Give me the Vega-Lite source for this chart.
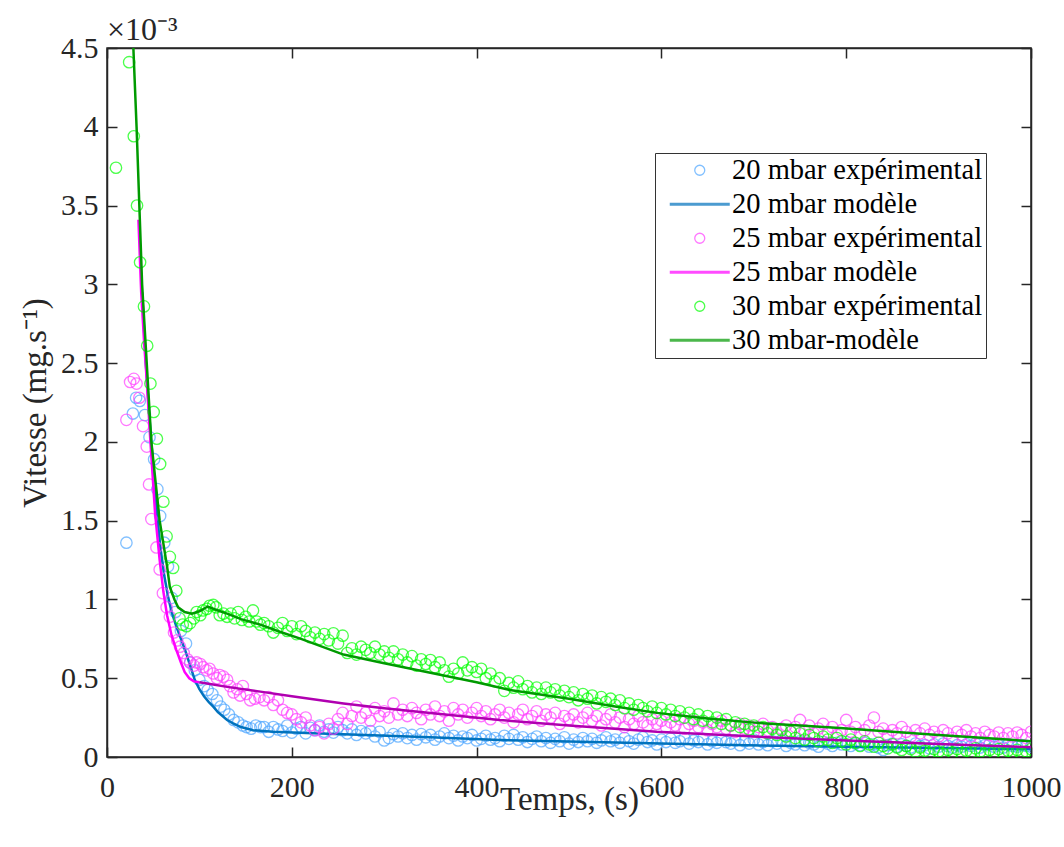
{
"$schema": "https://vega.github.io/schema/vega-lite/v6.json",
"width": 924, "height": 709,
"autosize": {"type": "none"},
"padding": {"left": 107, "top": 48, "right": 33, "bottom": 90},
"background": "white",
"title": {"text": "×10⁻³", "anchor": "start", "frame": "group", "offset": -14, "fontSize": 32, "font": "Liberation Serif", "fontWeight": "normal", "color": "#262626"},
"config": {
 "view": {"stroke": "#262626", "strokeWidth": 1.5},
 "axis": {"grid": false, "domainColor": "#262626", "domainWidth": 1.5, "tickColor": "#262626", "tickWidth": 1.5, "tickSize": -10, "labelFlush": false, "labelFont": "Liberation Serif", "labelFontSize": 30, "labelColor": "#262626", "titleFont": "Liberation Serif", "titleFontSize": 33, "titleFontWeight": "normal", "titleColor": "#262626"}
},
"datasets": {
"e20": [{"t":21,"v":1.36},{"t":28,"v":2.18},{"t":31.5,"v":2.28},{"t":35.5,"v":2.26},{"t":41,"v":2.17},{"t":46,"v":2.03},{"t":51,"v":1.89},{"t":54.5,"v":1.7},{"t":57.5,"v":1.53},{"t":62,"v":1.36},{"t":66,"v":1.21},{"t":70,"v":1.01},{"t":74,"v":0.92},{"t":80,"v":0.8},{"t":85.5,"v":0.72},{"t":90,"v":0.6},{"t":95,"v":0.55},{"t":100,"v":0.49},{"t":105,"v":0.45},{"t":109,"v":0.425},{"t":114,"v":0.4},{"t":119,"v":0.36},{"t":123,"v":0.32},{"t":127,"v":0.3},{"t":132,"v":0.27},{"t":137,"v":0.235},{"t":142,"v":0.22},{"t":147,"v":0.2},{"t":151,"v":0.19},{"t":156,"v":0.18},{"t":161,"v":0.2},{"t":166,"v":0.19},
{"t":170,"v":0.19},{"t":175,"v":0.16},{"t":180,"v":0.19},{"t":185,"v":0.175},{"t":190,"v":0.165},{"t":195,"v":0.2},{"t":200,"v":0.155},{"t":205,"v":0.18},{"t":210,"v":0.19},{"t":215,"v":0.15},{"t":220,"v":0.185},{"t":225,"v":0.17},{"t":230,"v":0.2},{"t":235,"v":0.16},{"t":240,"v":0.175},{"t":245,"v":0.155},{"t":250,"v":0.19},{"t":255,"v":0.17},{"t":260,"v":0.15},{"t":265,"v":0.175},{"t":270,"v":0.14},{"t":275,"v":0.165},{"t":280,"v":0.15},{"t":285,"v":0.165},{"t":290,"v":0.13},{"t":295,"v":0.16},{"t":300,"v":0.105},{"t":305,"v":0.12},{"t":310,"v":0.145},{"t":315,"v":0.13},{"t":320,"v":0.15},{"t":325,"v":0.12},{"t":330,"v":0.14},{"t":335,"v":0.11},{"t":340,"v":0.145},{"t":345,"v":0.125},{"t":350,"v":0.14},{"t":355,"v":0.11},{"t":360,"v":0.13},{"t":365,"v":0.15},{"t":370,"v":0.12},{"t":375,"v":0.135},{"t":380,"v":0.105},{"t":385,"v":0.13},{"t":390,"v":0.12},{"t":395,"v":0.14},{"t":400,"v":0.105},{"t":405,"v":0.115},{"t":410,"v":0.135},{"t":415,"v":0.11},{"t":420,"v":0.12},{"t":425,"v":0.1},{"t":430,"v":0.135},{"t":435,"v":0.115},{"t":440,"v":0.14},{"t":445,"v":0.11},{"t":450,"v":0.125},{"t":455,"v":0.095},{"t":460,"v":0.115},{"t":465,"v":0.13},{"t":470,"v":0.1},{"t":475,"v":0.12},{"t":480,"v":0.09},{"t":485,"v":0.115},{"t":490,"v":0.1},{"t":495,"v":0.125},{"t":500,"v":0.085},{"t":505,"v":0.11},{"t":510,"v":0.095},{"t":515,"v":0.12},{"t":520,"v":0.1},{"t":525,"v":0.115},{"t":530,"v":0.09},{"t":535,"v":0.105},{"t":540,"v":0.125},{"t":545,"v":0.1},{"t":550,"v":0.11},{"t":555,"v":0.09},{"t":560,"v":0.12},{"t":565,"v":0.1},{"t":570,"v":0.085},{"t":575,"v":0.11},{"t":580,"v":0.125},{"t":585,"v":0.095},{"t":590,"v":0.105},{"t":595,"v":0.08},{"t":600,"v":0.11},{"t":605,"v":0.095},{"t":610,"v":0.115},{"t":615,"v":0.09},{"t":620,"v":0.1},{"t":625,"v":0.12},{"t":630,"v":0.085},{"t":635,"v":0.105},{"t":640,"v":0.095},{"t":645,"v":0.115},{"t":650,"v":0.08},{"t":655,"v":0.1},{"t":660,"v":0.09},{"t":665,"v":0.11},{"t":670,"v":0.095},{"t":675,"v":0.085},{"t":680,"v":0.105},{"t":685,"v":0.075},{"t":690,"v":0.1},{"t":695,"v":0.085},{"t":700,"v":0.11},{"t":705,"v":0.08},{"t":710,"v":0.095},{"t":715,"v":0.075},{"t":720,"v":0.1},{"t":725,"v":0.085},{"t":730,"v":0.105},{"t":735,"v":0.07},{"t":740,"v":0.09},{"t":745,"v":0.08},{"t":750,"v":0.1},{"t":755,"v":0.075},{"t":760,"v":0.09},{"t":765,"v":0.08},{"t":770,"v":0.065},{"t":775,"v":0.095},{"t":780,"v":0.085},{"t":785,"v":0.07},{"t":790,"v":0.09},{"t":795,"v":0.08},{"t":800,"v":0.095},{"t":805,"v":0.07},{"t":810,"v":0.085},{"t":815,"v":0.075},{"t":820,"v":0.09},{"t":825,"v":0.065},{"t":830,"v":0.08},{"t":835,"v":0.06},{"t":840,"v":0.045},{"t":845,"v":0.075},{"t":850,"v":0.085},{"t":855,"v":0.065},{"t":860,"v":0.08},{"t":865,"v":0.07},{"t":870,"v":0.06},{"t":875,"v":0.085},{"t":880,"v":0.07},{"t":885,"v":0.075},{"t":890,"v":0.055},{"t":895,"v":0.08},{"t":900,"v":0.065},{"t":905,"v":0.085},{"t":910,"v":0.07},{"t":915,"v":0.06},{"t":920,"v":0.075},{"t":925,"v":0.065},{"t":930,"v":0.08},{"t":935,"v":0.07},{"t":940,"v":0.085},{"t":945,"v":0.06},{"t":950,"v":0.075},{"t":955,"v":0.08},{"t":960,"v":0.065},{"t":965,"v":0.075},{"t":970,"v":0.06},{"t":975,"v":0.08},{"t":980,"v":0.07},{"t":985,"v":0.065},{"t":990,"v":0.075},{"t":995,"v":0.07},{"t":1000,"v":0.065}],
"e25": [{"t":21,"v":2.14},{"t":25,"v":2.38},{"t":29,"v":2.4},{"t":32,"v":2.37},{"t":35,"v":2.28},{"t":39,"v":2.1},{"t":43,"v":1.97},{"t":45.5,"v":1.73},{"t":48,"v":1.51},{"t":53.5,"v":1.33},{"t":57,"v":1.19},{"t":60.5,"v":1.04},{"t":64.5,"v":0.95},{"t":68,"v":0.89},{"t":72.5,"v":0.79},{"t":76,"v":0.74},{"t":79,"v":0.7},{"t":83,"v":0.66},{"t":87,"v":0.62},{"t":90,"v":0.6},{"t":94,"v":0.58},{"t":97,"v":0.6},{"t":101,"v":0.59},{"t":104,"v":0.57},{"t":108,"v":0.55},{"t":111,"v":0.56},{"t":115,"v":0.53},{"t":119,"v":0.5},{"t":122,"v":0.52},{"t":126,"v":0.51},{"t":130,"v":0.49},{"t":133,"v":0.45},{"t":137,"v":0.41},{"t":141,"v":0.43},{"t":144,"v":0.39},{"t":147,"v":0.45},{"t":151,"v":0.4},{"t":155,"v":0.36},{"t":160,"v":0.37},{"t":165,"v":0.38},
{"t":170,"v":0.36},{"t":175,"v":0.38},{"t":180,"v":0.33},{"t":185,"v":0.36},{"t":190,"v":0.3},{"t":195,"v":0.28},{"t":200,"v":0.27},{"t":205,"v":0.24},{"t":210,"v":0.22},{"t":215,"v":0.25},{"t":220,"v":0.2},{"t":225,"v":0.17},{"t":230,"v":0.19},{"t":235,"v":0.15},{"t":240,"v":0.21},{"t":245,"v":0.18},{"t":250,"v":0.24},{"t":255,"v":0.28},{"t":260,"v":0.21},{"t":265,"v":0.26},{"t":270,"v":0.32},{"t":275,"v":0.25},{"t":280,"v":0.28},{"t":285,"v":0.23},{"t":290,"v":0.31},{"t":295,"v":0.26},{"t":300,"v":0.29},{"t":305,"v":0.25},{"t":310,"v":0.34},{"t":315,"v":0.27},{"t":320,"v":0.3},{"t":325,"v":0.26},{"t":330,"v":0.31},{"t":335,"v":0.28},{"t":340,"v":0.24},{"t":345,"v":0.3},{"t":350,"v":0.27},{"t":355,"v":0.32},{"t":360,"v":0.26},{"t":365,"v":0.29},{"t":370,"v":0.23},{"t":375,"v":0.31},{"t":380,"v":0.27},{"t":385,"v":0.3},{"t":390,"v":0.25},{"t":395,"v":0.28},{"t":400,"v":0.31},{"t":405,"v":0.26},{"t":410,"v":0.29},{"t":415,"v":0.24},{"t":420,"v":0.27},{"t":425,"v":0.3},{"t":430,"v":0.25},{"t":435,"v":0.28},{"t":440,"v":0.22},{"t":445,"v":0.27},{"t":450,"v":0.3},{"t":455,"v":0.24},{"t":460,"v":0.26},{"t":465,"v":0.29},{"t":470,"v":0.23},{"t":475,"v":0.27},{"t":480,"v":0.25},{"t":485,"v":0.28},{"t":490,"v":0.21},{"t":495,"v":0.26},{"t":500,"v":0.24},{"t":505,"v":0.27},{"t":510,"v":0.22},{"t":515,"v":0.25},{"t":520,"v":0.28},{"t":525,"v":0.23},{"t":530,"v":0.26},{"t":535,"v":0.2},{"t":540,"v":0.24},{"t":545,"v":0.27},{"t":550,"v":0.22},{"t":555,"v":0.25},{"t":560,"v":0.19},{"t":565,"v":0.24},{"t":570,"v":0.21},{"t":575,"v":0.26},{"t":580,"v":0.22},{"t":585,"v":0.2},{"t":590,"v":0.24},{"t":595,"v":0.21},{"t":600,"v":0.23},{"t":605,"v":0.19},{"t":610,"v":0.22},{"t":615,"v":0.2},{"t":620,"v":0.24},{"t":625,"v":0.18},{"t":630,"v":0.21},{"t":635,"v":0.23},{"t":640,"v":0.19},{"t":645,"v":0.22},{"t":650,"v":0.17},{"t":655,"v":0.21},{"t":660,"v":0.19},{"t":665,"v":0.23},{"t":670,"v":0.18},{"t":675,"v":0.2},{"t":680,"v":0.16},{"t":685,"v":0.21},{"t":690,"v":0.18},{"t":695,"v":0.2},{"t":700,"v":0.16},{"t":705,"v":0.19},{"t":710,"v":0.21},{"t":715,"v":0.17},{"t":720,"v":0.19},{"t":725,"v":0.15},{"t":730,"v":0.18},{"t":735,"v":0.2},{"t":740,"v":0.16},{"t":745,"v":0.19},{"t":750,"v":0.235},{"t":755,"v":0.17},{"t":760,"v":0.2},{"t":765,"v":0.15},{"t":770,"v":0.18},{"t":775,"v":0.21},{"t":780,"v":0.16},{"t":785,"v":0.19},{"t":790,"v":0.14},{"t":795,"v":0.17},{"t":800,"v":0.235},{"t":805,"v":0.16},{"t":810,"v":0.19},{"t":815,"v":0.15},{"t":820,"v":0.17},{"t":825,"v":0.2},{"t":830,"v":0.25},{"t":835,"v":0.16},{"t":840,"v":0.18},{"t":845,"v":0.14},{"t":850,"v":0.17},{"t":855,"v":0.15},{"t":860,"v":0.19},{"t":865,"v":0.16},{"t":870,"v":0.13},{"t":875,"v":0.17},{"t":880,"v":0.15},{"t":885,"v":0.18},{"t":890,"v":0.14},{"t":895,"v":0.16},{"t":900,"v":0.13},{"t":905,"v":0.17},{"t":910,"v":0.15},{"t":915,"v":0.12},{"t":920,"v":0.16},{"t":925,"v":0.14},{"t":930,"v":0.17},{"t":935,"v":0.13},{"t":940,"v":0.15},{"t":945,"v":0.12},{"t":950,"v":0.16},{"t":955,"v":0.14},{"t":960,"v":0.13},{"t":965,"v":0.155},{"t":970,"v":0.12},{"t":975,"v":0.15},{"t":980,"v":0.13},{"t":985,"v":0.155},{"t":990,"v":0.14},{"t":995,"v":0.12},{"t":1000,"v":0.16}],
"e30": [{"t":9.7,"v":3.74},{"t":24,"v":4.41},{"t":29,"v":3.94},{"t":32.5,"v":3.5},{"t":35.8,"v":3.14},{"t":40,"v":2.86},{"t":43.5,"v":2.61},{"t":47,"v":2.37},{"t":50.5,"v":2.19},{"t":54,"v":2.02},{"t":57.5,"v":1.86},{"t":61,"v":1.62},{"t":64.5,"v":1.4},{"t":68,"v":1.27},{"t":71.5,"v":1.2},{"t":75,"v":1.055},{"t":78.5,"v":0.88},{"t":82,"v":0.84},{"t":86,"v":0.83},{"t":90,"v":0.85},{"t":94,"v":0.88},{"t":97,"v":0.92},{"t":101,"v":0.9},{"t":104,"v":0.93},{"t":108,"v":0.94},{"t":111,"v":0.96},{"t":115,"v":0.965},{"t":118,"v":0.95},{"t":122,"v":0.9},{"t":126,"v":0.91},{"t":130,"v":0.89},{"t":134,"v":0.91},{"t":138,"v":0.88},{"t":142,"v":0.92},{"t":146,"v":0.87},{"t":150,"v":0.89},{"t":154,"v":0.86},{"t":158,"v":0.93},{"t":162,"v":0.86},{"t":166,"v":0.84},{"t":170,"v":0.85},
{"t":175,"v":0.83},{"t":180,"v":0.79},{"t":185,"v":0.82},{"t":190,"v":0.85},{"t":195,"v":0.8},{"t":200,"v":0.83},{"t":205,"v":0.78},{"t":210,"v":0.83},{"t":215,"v":0.8},{"t":220,"v":0.76},{"t":225,"v":0.79},{"t":230,"v":0.75},{"t":235,"v":0.78},{"t":240,"v":0.74},{"t":245,"v":0.785},{"t":250,"v":0.72},{"t":255,"v":0.77},{"t":260,"v":0.66},{"t":265,"v":0.69},{"t":270,"v":0.65},{"t":275,"v":0.7},{"t":280,"v":0.68},{"t":285,"v":0.66},{"t":290,"v":0.7},{"t":295,"v":0.65},{"t":300,"v":0.67},{"t":305,"v":0.63},{"t":310,"v":0.67},{"t":315,"v":0.62},{"t":320,"v":0.65},{"t":325,"v":0.6},{"t":330,"v":0.64},{"t":335,"v":0.58},{"t":340,"v":0.62},{"t":345,"v":0.59},{"t":350,"v":0.615},{"t":355,"v":0.57},{"t":360,"v":0.6},{"t":365,"v":0.55},{"t":370,"v":0.51},{"t":375,"v":0.56},{"t":380,"v":0.53},{"t":385,"v":0.6},{"t":390,"v":0.55},{"t":395,"v":0.57},{"t":400,"v":0.54},{"t":405,"v":0.56},{"t":410,"v":0.5},{"t":415,"v":0.53},{"t":420,"v":0.48},{"t":425,"v":0.5},{"t":430,"v":0.42},{"t":435,"v":0.47},{"t":440,"v":0.44},{"t":445,"v":0.48},{"t":450,"v":0.43},{"t":455,"v":0.45},{"t":460,"v":0.41},{"t":465,"v":0.44},{"t":470,"v":0.4},{"t":475,"v":0.44},{"t":480,"v":0.41},{"t":485,"v":0.43},{"t":490,"v":0.39},{"t":495,"v":0.42},{"t":500,"v":0.38},{"t":505,"v":0.41},{"t":510,"v":0.36},{"t":515,"v":0.4},{"t":520,"v":0.37},{"t":525,"v":0.39},{"t":530,"v":0.34},{"t":535,"v":0.38},{"t":540,"v":0.35},{"t":545,"v":0.37},{"t":550,"v":0.33},{"t":555,"v":0.36},{"t":560,"v":0.31},{"t":565,"v":0.34},{"t":570,"v":0.3},{"t":575,"v":0.33},{"t":580,"v":0.31},{"t":585,"v":0.29},{"t":590,"v":0.32},{"t":595,"v":0.28},{"t":600,"v":0.31},{"t":605,"v":0.27},{"t":610,"v":0.3},{"t":615,"v":0.26},{"t":620,"v":0.29},{"t":625,"v":0.25},{"t":630,"v":0.28},{"t":635,"v":0.24},{"t":640,"v":0.27},{"t":645,"v":0.23},{"t":650,"v":0.26},{"t":655,"v":0.22},{"t":660,"v":0.25},{"t":665,"v":0.21},{"t":670,"v":0.24},{"t":675,"v":0.2},{"t":680,"v":0.22},{"t":685,"v":0.19},{"t":690,"v":0.21},{"t":695,"v":0.175},{"t":700,"v":0.2},{"t":705,"v":0.16},{"t":710,"v":0.19},{"t":715,"v":0.15},{"t":720,"v":0.18},{"t":725,"v":0.14},{"t":730,"v":0.17},{"t":735,"v":0.13},{"t":740,"v":0.16},{"t":745,"v":0.12},{"t":750,"v":0.15},{"t":755,"v":0.11},{"t":760,"v":0.14},{"t":765,"v":0.12},{"t":770,"v":0.1},{"t":775,"v":0.13},{"t":780,"v":0.11},{"t":785,"v":0.09},{"t":790,"v":0.12},{"t":795,"v":0.1},{"t":800,"v":0.08},{"t":805,"v":0.11},{"t":810,"v":0.09},{"t":815,"v":0.07},{"t":820,"v":0.1},{"t":825,"v":0.08},{"t":830,"v":0.065},{"t":835,"v":0.09},{"t":840,"v":0.07},{"t":845,"v":0.055},{"t":850,"v":0.08},{"t":855,"v":0.06},{"t":860,"v":0.045},{"t":865,"v":0.07},{"t":870,"v":0.05},{"t":875,"v":0.035},{"t":880,"v":0.06},{"t":885,"v":0.04},{"t":890,"v":0.025},{"t":895,"v":0.05},{"t":900,"v":0.035},{"t":905,"v":0.02},{"t":910,"v":0.045},{"t":915,"v":0.03},{"t":920,"v":0.05},{"t":925,"v":0.025},{"t":930,"v":0.04},{"t":935,"v":0.03},{"t":940,"v":0.055},{"t":945,"v":0.035},{"t":950,"v":0.02},{"t":955,"v":0.045},{"t":960,"v":0.03},{"t":965,"v":0.05},{"t":970,"v":0.025},{"t":975,"v":0.04},{"t":980,"v":0.03},{"t":985,"v":0.045},{"t":990,"v":0.02},{"t":995,"v":0.035},{"t":1000,"v":0.05}],
"m20": [{"t":38,"v":2.95},{"t":42,"v":2.5},{"t":46,"v":2.15},{"t":50,"v":1.85},{"t":54,"v":1.55},{"t":58,"v":1.32},{"t":62,"v":1.15},{"t":66,"v":1.02},{"t":70,"v":0.92},{"t":75,"v":0.83},{"t":80,"v":0.75},{"t":85,"v":0.67},{"t":90,"v":0.58},{"t":95,"v":0.49},{"t":100,"v":0.43},{"t":105,"v":0.385},{"t":110,"v":0.35},{"t":115,"v":0.32},{"t":120,"v":0.285},{"t":125,"v":0.26},{"t":130,"v":0.235},{"t":136,"v":0.215},{"t":145,"v":0.19},{"t":158,"v":0.17},{"t":180,"v":0.16},{"t":223,"v":0.15},{"t":280,"v":0.14},{"t":350,"v":0.125},{"t":425,"v":0.108},{"t":500,"v":0.098},{"t":600,"v":0.085},{"t":707,"v":0.073},{"t":800,"v":0.065},{"t":900,"v":0.057},{"t":1000,"v":0.05}],
"m25": [{"t":34,"v":3.41},{"t":37,"v":2.95},{"t":40,"v":2.65},{"t":43,"v":2.39},{"t":47,"v":2.0},{"t":52,"v":1.55},{"t":57,"v":1.25},{"t":61,"v":1.05},{"t":65,"v":0.9},{"t":70,"v":0.77},{"t":75,"v":0.68},{"t":80,"v":0.6},{"t":84,"v":0.54},{"t":89,"v":0.5},{"t":94,"v":0.48},{"t":100,"v":0.475}],
"m25b": [{"t":100,"v":0.475},{"t":110,"v":0.465},{"t":130,"v":0.445},{"t":166,"v":0.415},{"t":200,"v":0.385},{"t":256,"v":0.34},{"t":300,"v":0.31},{"t":350,"v":0.28},{"t":425,"v":0.235},{"t":500,"v":0.2},{"t":595,"v":0.16},{"t":707,"v":0.128},{"t":800,"v":0.105},{"t":900,"v":0.082},{"t":1000,"v":0.062}],
"m30": [{"t":27.5,"v":4.65},{"t":32,"v":4.0},{"t":38,"v":3.0},{"t":48,"v":2.0},{"t":57,"v":1.5},{"t":65,"v":1.21},{"t":68,"v":1.08},{"t":73,"v":1.0},{"t":77,"v":0.95},{"t":84,"v":0.92},{"t":92,"v":0.91},{"t":100,"v":0.925},{"t":109,"v":0.955},{"t":120,"v":0.93},{"t":130,"v":0.91},{"t":145,"v":0.875},{"t":166,"v":0.84},{"t":187,"v":0.795},{"t":210,"v":0.75},{"t":256,"v":0.65},{"t":300,"v":0.595},{"t":346,"v":0.54},{"t":400,"v":0.475},{"t":436,"v":0.425},{"t":500,"v":0.37},{"t":550,"v":0.32},{"t":595,"v":0.28},{"t":650,"v":0.245},{"t":707,"v":0.215},{"t":750,"v":0.2},{"t":793,"v":0.184},{"t":850,"v":0.16},{"t":900,"v":0.14},{"t":950,"v":0.12},{"t":1000,"v":0.1}]
},
"layer": [
 {"layer": [
  {"data": {"name": "e20"}, "mark": {"type": "point", "filled": false, "size": 130, "strokeWidth": 1.3, "clip": true},
   "encoding": {
    "x": {"field": "t", "type": "quantitative", "scale": {"domain": [0, 1000], "nice": false}, "axis": {"values": [0, 200, 400, 600, 800, 1000], "format": "d", "title": "Temps, (s)", "labelPadding": 25, "titlePadding": -19}},
    "y": {"field": "v", "type": "quantitative", "scale": {"domain": [0, 4.5], "nice": false}, "axis": {"values": [0, 0.5, 1, 1.5, 2, 2.5, 3, 3.5, 4, 4.5], "format": "~g", "title": "Vitesse (mg.s⁻¹)", "labelPadding": 19, "titlePadding": 8}},
    "color": {"datum": "20 mbar expérimental", "type": "nominal",
     "scale": {"domain": ["20 mbar expérimental", "20 mbar modèle", "25 mbar expérimental", "25 mbar modèle", "30 mbar expérimental", "30 mbar-modèle"], "range": ["#4da6ff", "#0072bd", "#ff40ff", "#ff00ff", "#00ff00", "#009a00"]},
     "legend": {"orient": "none", "legendX": 548, "legendY": 105, "title": null, "labelFont": "Liberation Serif", "labelFontSize": 28.5, "labelColor": "#000000", "symbolSize": 100, "symbolStrokeWidth": 1.3, "symbolOffset": 27.5, "labelOffset": 18, "rowPadding": 5, "strokeColor": "#333333", "fillColor": "#ffffff", "padding": 3, "labelLimit": 0}},
    "shape": {"datum": "20 mbar expérimental", "type": "nominal",
     "scale": {"domain": ["20 mbar expérimental", "20 mbar modèle", "25 mbar expérimental", "25 mbar modèle", "30 mbar expérimental", "30 mbar-modèle"], "range": ["circle", "M-6,-0.16H6M-6,0H6M-6,0.16H6", "circle", "M-6,-0.16H6M-6,0H6M-6,0.16H6", "circle", "M-6,-0.16H6M-6,0H6M-6,0.16H6"]}}
   }},
  {"data": {"name": "m20"}, "mark": {"type": "line", "strokeWidth": 2.5, "clip": true},
   "encoding": {"x": {"field": "t", "type": "quantitative"}, "y": {"field": "v", "type": "quantitative"}, "color": {"datum": "20 mbar modèle", "type": "nominal"}}},
  {"data": {"name": "e25"}, "mark": {"type": "point", "filled": false, "size": 130, "strokeWidth": 1.3, "clip": true},
   "encoding": {"x": {"field": "t", "type": "quantitative"}, "y": {"field": "v", "type": "quantitative"}, "color": {"datum": "25 mbar expérimental", "type": "nominal"}, "shape": {"datum": "25 mbar expérimental", "type": "nominal"}}},
  {"data": {"name": "m25"}, "mark": {"type": "line", "strokeWidth": 2.5, "clip": true},
   "encoding": {"x": {"field": "t", "type": "quantitative"}, "y": {"field": "v", "type": "quantitative"}, "color": {"datum": "25 mbar modèle", "type": "nominal"}}},
  {"data": {"name": "e30"}, "mark": {"type": "point", "filled": false, "size": 130, "strokeWidth": 1.3, "clip": true},
   "encoding": {"x": {"field": "t", "type": "quantitative"}, "y": {"field": "v", "type": "quantitative"}, "color": {"datum": "30 mbar expérimental", "type": "nominal"}, "shape": {"datum": "30 mbar expérimental", "type": "nominal"}}},
  {"data": {"name": "m30"}, "mark": {"type": "line", "strokeWidth": 2.5, "clip": true},
   "encoding": {"x": {"field": "t", "type": "quantitative"}, "y": {"field": "v", "type": "quantitative"}, "color": {"datum": "30 mbar-modèle", "type": "nominal"}}}
 ]},
 {"data": {"name": "m25b"}, "mark": {"type": "line", "color": "#b000b0", "strokeWidth": 2.5, "clip": true},
  "encoding": {
   "x": {"field": "t", "type": "quantitative", "scale": {"domain": [0, 1000], "nice": false}, "axis": {"orient": "top", "labels": false, "title": null, "values": [0, 200, 400, 600, 800, 1000]}},
   "y": {"field": "v", "type": "quantitative", "scale": {"domain": [0, 4.5], "nice": false}, "axis": {"orient": "right", "labels": false, "title": null, "values": [0, 0.5, 1, 1.5, 2, 2.5, 3, 3.5, 4, 4.5]}}
  }}
],
"resolve": {"axis": {"x": "independent", "y": "independent"}}
}
